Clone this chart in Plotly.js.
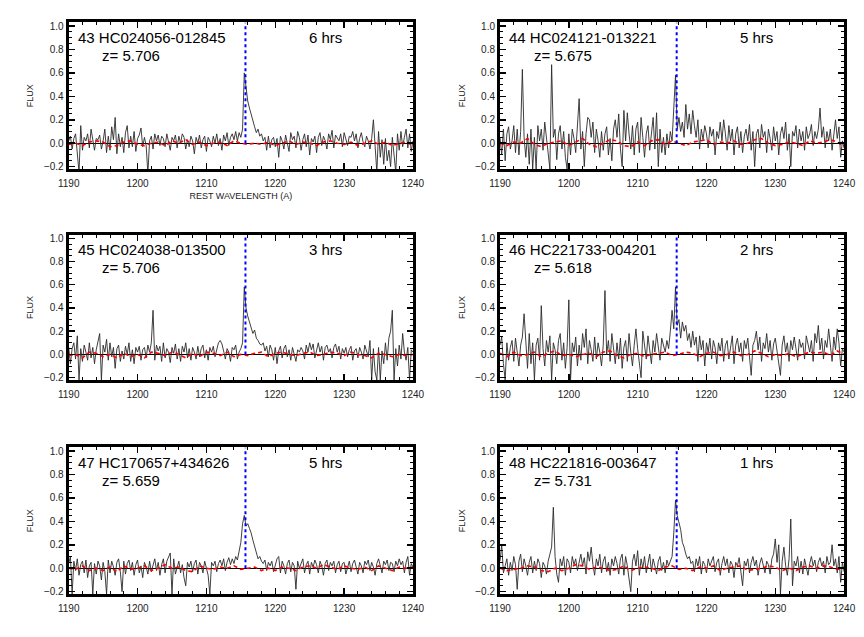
<!DOCTYPE html>
<html>
<head>
<meta charset="utf-8">
<script src="https://cdn.plot.ly/plotly-3.0.1.min.js"></script>
<style>
  html, body { margin: 0; padding: 0; background: #fff; }
  #spectra { width: 864px; height: 637px; }
</style>
</head>
<body>
<div id="spectra"></div>
<script>
// object info, one entry per panel
const panelIds = ["43", "44", "45", "46", "47", "48"];
const objectNames = ["HC024056-012845", "HC024121-013221", "HC024038-013500",
                     "HC221733-004201", "HC170657+434626", "HC221816-003647"];
const redshifts = ["5.706", "5.675", "5.706", "5.618", "5.659", "5.731"];
const exposureHours = [6, 5, 3, 2, 5, 1];

const waveMin = 1190, waveMax = 1240;
const lyaRest = 1215.67;

// flux, sampled every 0.25 A from 1190 to 1240
const flux43 = [
  0.02,0.06,-0.05,0.04, 0.08,-0.10,-0.25,0.15, -0.06,0.05,0.02,0.08, -0.04,0.12,0.03,-0.06,
  0.04,0.03,0.07,-0.05, 0.02,0.12,-0.08,0.06, -0.06,0.14,0.03,0.22, -0.09,0.08,-0.03,0.05,
  -0.08,0.09,0.15,-0.04, 0.06,-0.03,0.10,-0.07, 0.04,0.07,0.13,-0.03, 0.05,-0.02,-0.26,0.02,
  0.06,-0.05,0.08,0.02, 0.07,-0.02,0.06,0.04, -0.03,0.08,0.01,-0.06, 0.05,0.02,0.07,-0.04,
  0.06,0.00,0.08,0.05, -0.05,0.03,-0.03,0.06, 0.02,-0.09,0.05,0.00, 0.07,-0.04,0.03,0.06,
  -0.07,0.05,0.02,-0.03, 0.06,0.00,0.08,-0.02, 0.04,-0.06,0.07,0.02, 0.09,-0.02,0.05,0.08,
  0.03,0.10,0.02,0.09, 0.05,0.12,0.60,0.45, 0.36,0.30,0.24,0.19, 0.14,0.09,0.12,0.06,
  0.08,0.02,0.05,-0.06, 0.06,-0.04,0.03,0.05, -0.03,0.04,-0.12,0.06, 0.02,-0.05,0.07,0.00,
  -0.07,0.09,0.03,0.06, -0.04,0.10,0.05,-0.06, 0.03,0.08,-0.03,0.07, -0.10,0.04,0.01,0.06,
  -0.08,0.05,0.09,-0.02, 0.06,0.02,-0.05,0.08, 0.03,0.11,-0.04,0.07, 0.04,0.02,0.08,-0.03,
  0.09,0.03,-0.02,0.06, 0.05,0.10,0.02,0.08, -0.04,0.04,0.09,0.01, -0.03,0.06,0.02,-0.05,
  0.04,0.20,-0.08,-0.25, 0.10,-0.12,0.03,-0.18, 0.04,-0.15,-0.06,-0.20, 0.05,-0.10,-0.25,0.08,
  -0.06,0.10,-0.03,0.05, 0.12,-0.04,0.08,-0.07, 0.02
];
const flux44 = [
  0.05,-0.10,0.12,-0.15, 0.08,0.14,-0.05,0.02, 0.15,-0.08,0.12,-0.10, 0.10,0.63,0.05,-0.12,
  0.08,-0.18,0.12,-0.22, 0.05,-0.22,0.15,0.02, 0.12,-0.06,0.18,0.03, -0.08,-0.22,0.67,0.05,
  0.12,-0.14,0.08,0.15, -0.05,0.10,-0.12,-0.22, 0.08,-0.10,0.12,0.04, -0.08,0.15,0.38,-0.05,
  0.10,-0.20,0.08,0.22, 0.20,0.05,0.18,-0.08, 0.12,0.02,-0.12,0.10, -0.06,0.08,0.14,-0.10,
  0.04,-0.15,0.12,0.20, 0.05,0.25,-0.05,-0.20, 0.28,0.02,0.26,0.08, -0.05,0.15,-0.10,0.12,
  0.18,-0.08,0.22,0.05, -0.12,0.08,0.15,-0.06, 0.10,0.22,-0.05,0.26, -0.20,0.12,-0.08,0.05,
  -0.10,0.08,-0.04,0.10, 0.02,0.25,0.58,0.12, 0.22,0.10,0.18,0.05, 0.33,0.12,0.25,0.08,
  0.28,0.15,0.05,0.20, -0.05,0.12,0.03,0.15, 0.08,-0.04,0.14,0.06, 0.12,-0.10,0.10,0.04,
  0.18,0.02,0.20,0.08, -0.06,0.15,0.02,0.12, -0.10,0.08,0.14,-0.04, 0.10,-0.08,0.06,0.12,
  0.02,0.16,-0.06,0.10, -0.20,0.08,0.12,-0.04, 0.16,0.05,0.10,-0.08, 0.12,0.04,-0.06,0.14,
  0.02,0.10,-0.10,0.08, 0.14,0.04,0.18,-0.06, 0.08,-0.20,0.10,0.06, 0.15,-0.04,0.12,0.02,
  0.10,-0.06,0.14,0.04, 0.08,0.16,-0.02,0.10, 0.04,0.12,0.30,0.05, 0.14,-0.04,0.10,0.02,
  0.12,-0.06,0.08,0.20, 0.04,0.14,-0.12,0.02, -0.04
];
const flux45 = [
  0.06,-0.08,0.05,0.10, -0.04,0.16,-0.22,0.05, -0.06,0.08,0.02,-0.05, 0.10,-0.03,0.06,-0.08,
  0.04,0.12,0.18,-0.22, 0.08,0.02,0.13,-0.05, 0.10,-0.02,0.06,-0.12, 0.05,0.08,-0.06,0.03,
  -0.04,0.07,0.00,0.10, -0.06,0.04,-0.08,0.06, 0.02,0.07,-0.05,0.04, 0.06,-0.03,0.08,0.02,
  0.10,0.38,-0.05,0.08, 0.03,0.07,-0.06,0.10, -0.03,0.05,0.02,-0.07, 0.06,0.01,0.09,-0.04,
  0.05,-0.06,0.07,0.02, 0.10,-0.03,0.05,-0.05, 0.06,0.02,-0.04,0.07, -0.02,0.05,0.08,-0.03,
  0.04,-0.05,0.06,0.02, 0.07,-0.02,0.04,0.10, 0.12,0.09,0.03,-0.04, 0.05,0.02,-0.06,0.06,
  0.04,0.08,-0.04,0.02, 0.05,0.10,0.58,0.40, 0.33,0.28,0.24,0.18, 0.21,0.14,0.12,0.09,
  0.08,0.10,0.03,0.07, -0.02,0.08,0.04,-0.05, 0.06,-0.08,0.03,0.07, -0.03,0.05,0.08,-0.02,
  0.04,-0.05,0.06,0.01, -0.06,0.04,0.02,0.06, 0.03,-0.04,0.08,0.02, 0.10,0.04,0.09,-0.03,
  0.05,0.10,0.02,0.07, -0.05,0.06,0.08,0.02, 0.05,-0.03,0.06,0.09, 0.02,0.07,-0.04,0.05,
  0.01,0.06,-0.02,0.04, 0.07,-0.05,0.03,0.05, -0.03,0.06,0.02,-0.04, 0.08,0.03,-0.02,0.12,
  -0.22,0.05,-0.15,-0.22, 0.06,-0.22,0.03,-0.08, 0.10,-0.05,0.14,0.20, 0.38,-0.22,0.05,-0.10,
  0.08,-0.04,0.18,0.02, -0.05,0.06,-0.22,0.04, 0.02
];
const flux46 = [
  0.08,0.15,-0.08,-0.22, 0.10,-0.05,0.06,0.12, -0.06,0.14,0.02,-0.10, 0.08,0.15,0.35,0.05,
  -0.12,0.18,-0.08,0.10, -0.22,0.08,0.14,-0.05, 0.42,0.05,-0.10,0.12, 0.02,0.16,-0.22,0.10,
  0.04,-0.08,0.12,0.18, -0.05,0.10,-0.12,0.06, 0.47,-0.22,0.10,0.02, 0.15,-0.10,0.08,-0.05,
  0.18,0.06,0.22,-0.08, 0.12,0.04,-0.06,0.15, -0.04,0.10,0.02,-0.10, 0.08,0.55,0.00,0.12,
  -0.06,0.18,0.05,-0.08, 0.10,-0.04,0.14,-0.12, 0.06,0.12,-0.06,0.18, 0.02,-0.10,0.08,0.22,
  0.05,-0.06,-0.20,0.20, 0.10,-0.04,0.16,0.06, -0.08,0.12,0.02,0.18, 0.06,-0.05,0.14,0.08,
  0.02,0.12,0.05,0.20, 0.38,0.22,0.58,0.25, 0.30,0.14,0.28,0.20, 0.25,0.12,0.18,0.06,
  0.20,0.08,0.15,-0.06, 0.16,0.04,0.12,-0.10, 0.10,0.02,0.14,-0.04, 0.12,0.06,-0.08,0.10,
  0.03,0.14,-0.06,0.08, 0.12,-0.04,0.06,0.16, -0.08,0.08,0.14,0.02, 0.10,-0.06,0.12,0.05,
  0.14,-0.02,-0.18,0.08, 0.12,0.20,0.04,0.15, -0.06,0.10,0.05,0.18, 0.02,0.12,-0.05,0.09,
  0.14,0.03,-0.08,-0.18, 0.08,0.16,0.02,0.10, -0.06,0.12,0.04,0.15, 0.05,-0.05,0.13,0.06,
  0.10,-0.04,0.16,0.08, 0.02,0.12,-0.06,0.18, 0.10,0.25,0.04,0.14, -0.04,0.12,0.06,0.22,
  0.08,-0.06,0.15,0.04, 0.22,0.10,-0.10,0.05, 0.02
];
const flux47 = [
  0.04,0.10,-0.22,0.06, -0.02,0.08,-0.06,0.03, 0.06,-0.04,0.07,-0.08, 0.02,0.05,-0.22,0.04,
  -0.05,0.06,0.02,-0.10, 0.05,-0.03,-0.22,0.07, -0.04,0.06,0.01,-0.06, 0.05,0.08,-0.03,-0.20,
  0.06,-0.05,0.04,0.07, -0.02,0.05,-0.06,0.03, 0.07,-0.04,0.02,-0.08, 0.05,0.01,-0.05,0.06,
  -0.03,0.04,0.08,-0.02, 0.05,-0.06,0.03,0.08, -0.04,0.06,0.10,0.13, -0.22,0.08,-0.05,0.02,
  0.06,-0.04,0.03,-0.08, -0.15,0.05,0.01,0.06, -0.03,0.04,0.07,-0.05, 0.05,0.02,-0.04,0.06,
  0.00,-0.06,-0.22,0.05, 0.02,0.06,-0.03,0.04, 0.07,0.02,0.08,-0.02, 0.05,0.09,0.03,0.08,
  0.04,0.10,0.07,0.14, 0.22,0.38,0.45,0.36, 0.38,0.34,0.30,0.24, 0.18,0.12,0.08,0.10,
  0.06,0.04,0.07,-0.02, 0.05,0.02,0.06,-0.03, 0.04,0.08,0.10,-0.04, 0.06,0.02,-0.05,0.04,
  0.07,-0.03,0.05,0.02, -0.18,0.06,0.00,0.04, 0.08,-0.04,0.03,0.06, -0.05,0.05,0.01,0.07,
  0.03,-0.04,0.06,0.02, -0.06,0.04,0.07,-0.02, 0.05,0.02,0.06,-0.04, 0.03,0.06,-0.03,0.04,
  0.05,-0.05,0.02,0.06, -0.03,0.04,0.07,0.01, -0.05,0.05,0.02,-0.04, 0.06,0.03,0.07,-0.02,
  0.05,0.01,-0.06,0.04, 0.08,0.02,-0.04,0.06, 0.03,0.07,-0.02,0.05, 0.04,-0.03,0.06,0.02,
  0.08,0.03,0.06,-0.04, 0.05,0.10,-0.06,0.04, 0.01
];
const flux48 = [
  0.06,0.20,-0.04,0.02, 0.08,-0.06,0.05,-0.02, 0.10,0.03,-0.18,0.06, 0.12,-0.03,0.08,0.02,
  -0.06,0.05,0.10,-0.04, 0.06,-0.02,0.08,0.04, -0.08,0.05,0.02,-0.05, 0.06,0.12,0.18,0.52,
  0.10,-0.05,-0.12,0.08, 0.02,0.10,-0.06,0.08, 0.05,-0.04,0.10,0.03, 0.08,-0.02,0.06,0.12,
  0.02,0.09,-0.05,0.14, 0.06,0.18,0.03,-0.06, 0.08,0.02,0.12,-0.04, 0.06,0.10,-0.03,0.05,
  -0.06,0.08,0.02,0.10, 0.04,-0.05,0.08,0.12, -0.06,0.10,0.02,-0.08, -0.20,0.06,0.12,0.02,
  0.15,-0.06,0.08,0.00, 0.10,-0.04,0.06,0.12, -0.03,0.08,0.02,-0.05, 0.06,0.10,-0.02,0.05,
  -0.04,0.07,0.02,0.06, 0.10,0.30,0.58,0.45, 0.40,0.33,0.22,0.18, 0.12,0.08,0.10,0.04,
  0.06,-0.03,0.08,0.02, 0.10,-0.05,0.06,0.03, -0.04,0.08,0.02,0.06, 0.10,-0.03,0.05,0.08,
  -0.06,0.04,0.10,0.02, 0.08,-0.04,0.06,0.03, -0.08,0.05,0.02,0.09, -0.05,-0.15,0.06,0.02,
  0.08,-0.04,0.05,0.10, 0.02,0.07,-0.06,0.04, 0.09,0.02,-0.04,0.06, 0.03,-0.05,0.08,0.12,
  0.25,0.05,0.20,-0.22, 0.06,0.18,0.02,-0.06, 0.08,0.42,-0.15,0.06, 0.02,0.10,-0.04,0.06,
  -0.05,0.08,0.02,-0.06, 0.04,0.10,0.02,0.07, -0.03,0.05,0.09,0.02, 0.06,-0.04,0.10,0.03,
  0.05,0.20,0.02,0.08, -0.04,0.10,-0.12,0.05, -0.03
];

// sky / noise level (red dashed), sampled every 1 A
const sky43 = [-0.01,0.0,-0.02,0.01,0.02,0.01,-0.03,-0.02,0.01,0.02,-0.01,-0.02,0.0,0.01,-0.02,0.02,0.0,0.03,-0.01,0.01,
  -0.02,0.0,0.01,-0.02,0.02,0.0,-0.01,0.0,-0.01,0.01,-0.02,0.0,0.02,-0.01,0.01,0.0,-0.02,0.01,0.02,0.0,
  -0.01,0.01,-0.02,0.0,0.02,-0.01,0.01,-0.02,0.0,0.01,-0.02];
const sky44 = [0.0,-0.02,0.01,0.0,0.04,-0.01,-0.03,0.0,0.01,0.02,-0.02,0.01,0.04,-0.01,-0.03,0.0,0.03,0.02,-0.02,-0.03,
  0.01,-0.02,0.02,0.03,-0.01,0.02,0.0,-0.02,0.01,0.02,0.03,-0.01,0.01,0.0,0.02,-0.01,0.0,0.03,0.04,0.0,
  -0.02,-0.01,0.01,0.0,-0.02,0.02,0.0,0.01,0.03,0.01,-0.03];
const sky45 = [-0.01,0.0,-0.03,0.02,0.01,-0.02,0.0,-0.03,0.01,-0.02,0.0,-0.03,0.02,0.01,-0.01,0.02,0.0,-0.03,0.01,-0.02,
  0.02,0.01,-0.01,0.02,-0.02,0.0,-0.01,0.01,0.02,-0.02,0.01,0.02,0.0,-0.01,0.01,0.02,-0.01,0.0,0.02,0.01,
  -0.01,0.02,0.0,-0.01,-0.03,0.01,0.0,-0.02,0.0,-0.01,0.0];
const sky46 = [0.01,-0.02,0.02,-0.01,0.0,0.02,-0.02,0.01,0.03,-0.01,0.0,-0.02,0.0,0.01,-0.02,0.02,0.03,-0.01,-0.03,0.0,
  0.01,-0.02,0.0,0.01,0.02,-0.01,0.0,0.02,0.01,-0.02,0.01,0.02,-0.01,0.0,0.02,-0.01,0.0,0.03,0.01,-0.02,
  0.0,-0.01,0.01,-0.02,0.0,0.02,0.01,0.02,-0.01,0.03,0.0];
const sky47 = [0.0,-0.01,0.02,-0.02,0.0,-0.02,0.01,-0.03,0.02,-0.01,0.0,0.02,-0.02,0.0,0.03,0.0,0.01,-0.02,-0.03,0.02,
  0.0,-0.01,0.01,0.0,0.02,-0.01,0.0,0.01,-0.02,0.0,-0.02,0.01,0.0,-0.02,0.01,0.02,0.0,0.03,0.01,-0.01,
  0.02,0.0,-0.01,0.01,-0.02,0.02,0.0,-0.02,0.01,0.0,0.01];
const sky48 = [0.0,-0.02,-0.01,0.0,0.02,0.01,-0.02,-0.03,0.0,-0.02,0.0,0.03,0.02,-0.01,0.01,0.0,-0.02,-0.01,0.02,-0.02,
  0.0,0.01,0.0,-0.02,0.01,0.02,-0.01,0.0,-0.02,0.01,0.0,0.02,-0.02,0.0,0.01,0.02,-0.02,-0.01,0.0,0.02,
  0.01,-0.02,0.0,-0.02,0.01,0.02,0.0,0.02,0.01,-0.01,0.0];

const fluxSets = [flux43, flux44, flux45, flux46, flux47, flux48];
const skySets = [sky43, sky44, sky45, sky46, sky47, sky48];

// panel placement (2 columns x 3 rows)
const colDomains = [[0.0795, 0.478], [0.5787, 0.977]];
const rowDomains = [[0.7347, 0.9647], [0.4035, 0.6314], [0.0675, 0.2975]];
const yRange = [-0.22, 1.03];
const font = "Liberation Sans, Arial, Helvetica, sans-serif";

function waveGrid(n) {
  const step = (waveMax - waveMin) / (n - 1);
  return Array.from({length: n}, (_, i) => waveMin + i * step);
}

const data = [];
const layout = {
  width: 864, height: 637,
  margin: {l: 0, r: 0, t: 0, b: 0},
  paper_bgcolor: "white", plot_bgcolor: "white",
  showlegend: false,
  annotations: [], shapes: []
};

panelIds.forEach((id, i) => {
  const n = i + 1;
  const xa = n === 1 ? "x" : "x" + n;
  const ya = n === 1 ? "y" : "y" + n;
  const xKey = n === 1 ? "xaxis" : "xaxis" + n;
  const yKey = n === 1 ? "yaxis" : "yaxis" + n;

  data.push({
    x: waveGrid(fluxSets[i].length), y: fluxSets[i],
    xaxis: xa, yaxis: ya, type: "scatter", mode: "lines",
    line: {color: "#2a2a2a", width: 0.9}, hoverinfo: "skip"
  });
  data.push({
    x: waveGrid(skySets[i].length), y: skySets[i],
    xaxis: xa, yaxis: ya, type: "scatter", mode: "lines",
    line: {color: "#ff0000", width: 1.6, dash: "4px,3px"}, hoverinfo: "skip"
  });

  const axisCommon = {
    showline: true, linecolor: "black", linewidth: 3, mirror: "allticks",
    ticks: "inside", ticklen: 6, tickwidth: 1.5, tickcolor: "black",
    showgrid: false, zeroline: false,
    tickfont: {family: font, size: 10, color: "#222"}
  };

  layout[xKey] = Object.assign({}, axisCommon, {
    domain: colDomains[i % 2], anchor: ya,
    range: [waveMin, waveMax], dtick: 10, tick0: 1190,
    minor: {dtick: 2, ticks: "inside", ticklen: 3, tickcolor: "black", tickwidth: 1},
    ticklabelstandoff: 3,
    title: i === 0 ? {text: "REST WAVELENGTH (A)", font: {family: font, size: 9, color: "#222"}, standoff: 5} : {text: ""}
  });
  layout[yKey] = Object.assign({}, axisCommon, {
    domain: rowDomains[Math.floor(i / 2)], anchor: xa,
    range: yRange, dtick: 0.2, tick0: 0, tickformat: ".1f",
    zeroline: true, zerolinecolor: "black", zerolinewidth: 1,
    minor: {dtick: 0.05, ticks: "inside", ticklen: 3, tickcolor: "black", tickwidth: 1},
    title: {text: "FLUX", font: {family: font, size: 9, color: "#222"}, standoff: 9}
  });

  // Ly-alpha marker
  layout.shapes.push({
    type: "line", xref: xa, yref: ya,
    x0: lyaRest, x1: lyaRest, y0: 0, y1: yRange[1],
    line: {color: "blue", width: 2, dash: "dot"}
  });

  const txt = {family: font, size: 15, color: "black"};
  layout.annotations.push(
    {xref: xa, yref: ya, x: 1191.0, y: 0.90, xanchor: "left", yanchor: "middle",
     text: id + " " + objectNames[i], showarrow: false, font: txt},
    {xref: xa, yref: ya, x: 1194.6, y: 0.745, xanchor: "left", yanchor: "middle",
     text: "z= " + redshifts[i], showarrow: false, font: txt},
    {xref: xa, yref: ya, x: 1224.6, y: 0.90, xanchor: "left", yanchor: "middle",
     text: exposureHours[i] + " hrs", showarrow: false, font: txt}
  );
});

Plotly.newPlot("spectra", data, layout, {staticPlot: true});
</script>
</body>
</html>
